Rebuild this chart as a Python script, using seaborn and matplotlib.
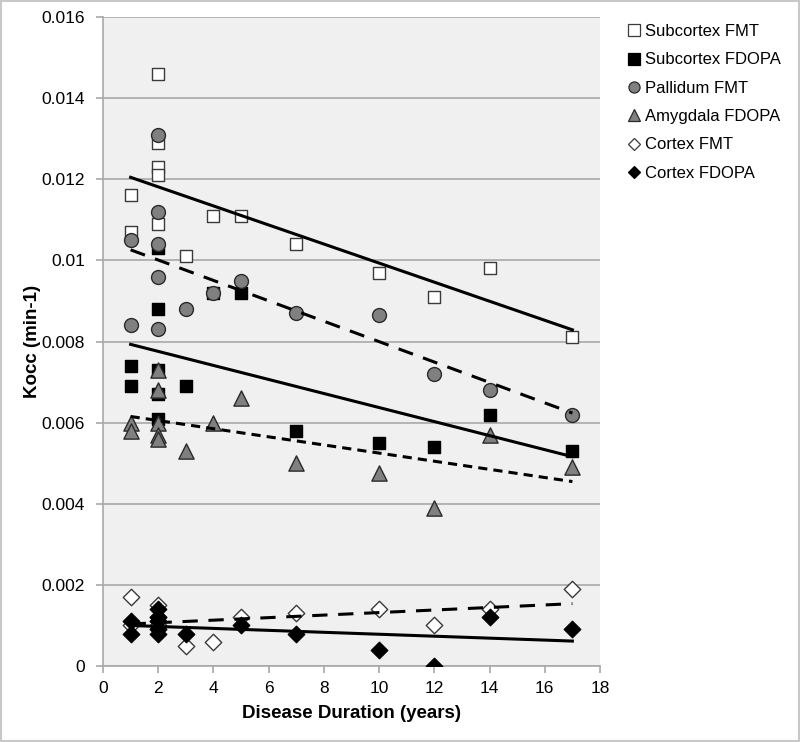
import numpy as np
import pandas as pd
import matplotlib
matplotlib.use("Agg")
import matplotlib.pyplot as plt
from matplotlib.lines import Line2D
from matplotlib.patches import Rectangle
import seaborn as sns

# ---- data ----
x_common = [1, 1, 2, 2, 2, 2, 2, 3, 4, 5, 7, 10, 12, 14, 17]

subcortex_fmt = [0.0116, 0.0107, 0.0146, 0.0129, 0.0123, 0.0121, 0.0109,
                 0.0101, 0.0111, 0.0111, 0.0104, 0.0097, 0.0091, 0.0098, 0.0081]
subcortex_fdopa = [0.0074, 0.0069, 0.0103, 0.0088, 0.0073, 0.0067, 0.0061,
                   0.0069, 0.0092, 0.0092, 0.0058, 0.0055, 0.0054, 0.0062, 0.0053]
pallidum_fmt = [0.0105, 0.0084, 0.0131, 0.0112, 0.0104, 0.0096, 0.0083,
                0.0088, 0.0092, 0.0095, 0.0087, 0.00865, 0.0072, 0.0068, 0.0062]
amygdala_fdopa = [0.0060, 0.0058, 0.0073, 0.0068, 0.0060, 0.0057, 0.0056,
                  0.0053, 0.0060, 0.0066, 0.0050, 0.00475, 0.0039, 0.0057, 0.0049]
cortex_fmt = [0.0017, 0.0010, 0.0015, 0.0012, 0.0011, 0.0010, 0.0009,
              0.0005, 0.0006, 0.0012, 0.0013, 0.0014, 0.0010, 0.0014, 0.0019]
x_cortex_fdopa = [1, 1, 2, 2, 2, 2, 2, 3, 5, 7, 10, 12, 14, 17]
cortex_fdopa = [0.0011, 0.0008, 0.0014, 0.0012, 0.0011, 0.0009, 0.0008,
                0.0008, 0.0010, 0.0008, 0.0004, 0.0000, 0.0012, 0.0009]

series_names = ["Subcortex FMT", "Subcortex FDOPA", "Pallidum FMT",
                "Amygdala FDOPA", "Cortex FMT", "Cortex FDOPA"]
x_ticks = [0, 2, 4, 6, 8, 10, 12, 14, 16, 18]
y_ticks = [0, 0.002, 0.004, 0.006, 0.008, 0.010, 0.012, 0.014, 0.016]
y_tick_labels = ["0", "0.002", "0.004", "0.006", "0.008", "0.01", "0.012", "0.014", "0.016"]

series = [
    (series_names[0], x_common, subcortex_fmt),
    (series_names[1], x_common, subcortex_fdopa),
    (series_names[2], x_common, pallidum_fmt),
    (series_names[3], x_common, amygdala_fdopa),
    (series_names[4], x_common, cortex_fmt),
    (series_names[5], x_cortex_fdopa, cortex_fdopa),
]

styles = {
    "Subcortex FMT":   dict(marker="s", face="white", edge="#3a3a3a", s=85, ls="-"),
    "Subcortex FDOPA": dict(marker="s", face="black", edge="black", s=85, ls="-"),
    "Pallidum FMT":    dict(marker="o", face="#808080", edge="#2a2a2a", s=100, ls=(0, (5, 3.5))),
    "Amygdala FDOPA":  dict(marker="^", face="#808080", edge="#2a2a2a", s=120, ls=(0, (3, 2))),
    "Cortex FMT":      dict(marker="D", face="white", edge="#3a3a3a", s=70, ls=(0, (5, 3.5))),
    "Cortex FDOPA":    dict(marker="D", face="black", edge="black", s=70, ls="-"),
}

# ---- figure ----
W, H = 800, 742
fig = plt.figure(figsize=(W / 100, H / 100), dpi=100)
fig.patch.set_facecolor("white")
fig.patches.append(Rectangle((0.001, 0.001), 0.998, 0.998, transform=fig.transFigure,
                             fill=False, edgecolor="#c8c8c8", linewidth=1.5))

ax = fig.add_axes([103 / W, 1 - 666 / H, (600 - 103) / W, (666 - 17) / H])
ax.set_facecolor("#f0f0f0")

for name, xs, ys in series:
    st = styles[name]
    df = pd.DataFrame({"x": xs, "y": ys})
    sns.scatterplot(data=df, x="x", y="y", ax=ax, marker=st["marker"], s=st["s"],
                    color=st["face"], edgecolor=st["edge"], linewidth=1.0, zorder=3,
                    legend=False)

for name, xs, ys in series:
    st = styles[name]
    df = pd.DataFrame({"x": xs, "y": ys})
    sns.regplot(data=df, x="x", y="y", ax=ax, scatter=False, ci=None, truncate=True,
                line_kws=dict(color="black", linewidth=2.2, linestyle=st["ls"], zorder=4))

ax.set_xlim(0, 18)
ax.set_ylim(0, 0.016)
ax.set_xticks(x_ticks)
ax.set_xticklabels([str(t) for t in x_ticks])
ax.set_yticks(y_ticks)
ax.set_yticklabels(y_tick_labels)
ax.yaxis.grid(True, color="#a8a8a8", linewidth=1.2, zorder=0)
ax.xaxis.grid(False)
ax.set_axisbelow(True)
for sp in ["top", "right"]:
    ax.spines[sp].set_visible(False)
for sp in ["left", "bottom"]:
    ax.spines[sp].set_color("#a8a8a8")
    ax.spines[sp].set_linewidth(1.2)
ax.tick_params(axis="both", colors="#a8a8a8", length=5, width=1.2, labelcolor="black",
               labelsize=12.5)
ax.tick_params(axis="y", pad=8)
ax.tick_params(axis="x", pad=6)
for lab in ax.get_xticklabels() + ax.get_yticklabels():
    lab.set_fontfamily("Liberation Sans")

ax.set_xlabel("Disease Duration (years)", fontsize=13.5, fontweight="bold",
              fontfamily="Liberation Sans", labelpad=6)
ax.set_ylabel("Kocc (min-1)", fontsize=13.5, fontweight="bold",
              fontfamily="Liberation Sans", labelpad=0)

handles = []
for name in series_names:
    st = styles[name]
    ms = 8 if st["marker"] in ("s", "o", "^") else 6.5
    handles.append(Line2D([], [], linestyle="none", marker=st["marker"], markersize=ms,
                          markerfacecolor=st["face"], markeredgecolor=st["edge"],
                          markeredgewidth=0.9))
leg = fig.legend(handles, series_names, loc="upper left",
                 bbox_to_anchor=(628 / W, 1 - 24 / H), frameon=False,
                 prop=dict(family="Liberation Sans", size=12),
                 handlelength=0.7, handletextpad=0.3, labelspacing=0.8,
                 borderaxespad=0, borderpad=0)

fig.savefig("out.png", dpi=100)
